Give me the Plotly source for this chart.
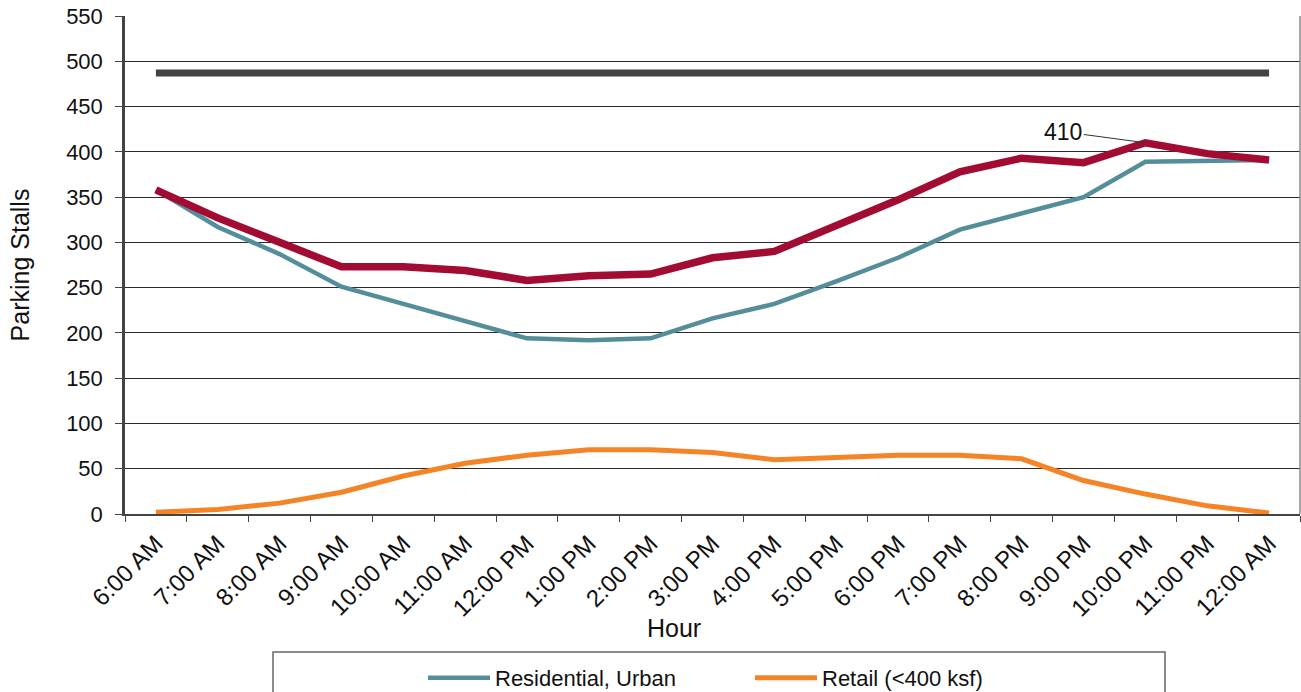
import plotly.graph_objects as go

hours = ["6:00 AM", "7:00 AM", "8:00 AM", "9:00 AM", "10:00 AM", "11:00 AM",
         "12:00 PM", "1:00 PM", "2:00 PM", "3:00 PM", "4:00 PM", "5:00 PM",
         "6:00 PM", "7:00 PM", "8:00 PM", "9:00 PM", "10:00 PM", "11:00 PM",
         "12:00 AM"]

residential = [358, 317, 287, 251, 232, 213, 194, 192, 194, 216, 232, 257,
               283, 314, 332, 350, 389, 390, 391]
retail = [2, 5, 12, 24, 42, 56, 65, 71, 71, 68, 60, 63, 65, 65, 61, 37, 22, 9, 1]
total = [358, 327, 300, 273, 273, 269, 258, 263, 265, 283, 290, 318, 347, 378,
         393, 388, 410, 398, 391]
capacity = [487] * len(hours)

peak_label = "410"
peak_hour = "10:00 PM"
peak_value = 410

FONT = "Liberation Sans, Arial, sans-serif"

fig = go.Figure()
fig.add_trace(go.Scatter(x=hours, y=capacity, mode="lines", name="Capacity",
                         line=dict(color="#434343", width=7), showlegend=False))
fig.add_trace(go.Scatter(x=hours, y=residential, mode="lines", name="Residential, Urban",
                         line=dict(color="#548E9B", width=4.5)))
fig.add_trace(go.Scatter(x=hours, y=retail, mode="lines", name="Retail (<400 ksf)",
                         line=dict(color="#F58426", width=5)))
fig.add_trace(go.Scatter(x=hours, y=total, mode="lines", name="Total",
                         line=dict(color="#A20C33", width=7.5), showlegend=False))

fig.add_annotation(x=peak_hour, y=peak_value, text=peak_label, showarrow=True,
                   arrowhead=0, arrowwidth=1, arrowcolor="#333333",
                   ax=-82, ay=-11, font=dict(family=FONT, size=23, color="#111111"))

# axis titles
fig.add_annotation(text="Parking Stalls", xref="paper", yref="paper",
                   x=-0.089, y=0.5, textangle=-90, showarrow=False,
                   xanchor="center", yanchor="middle",
                   font=dict(family=FONT, size=25, color="#111111"))
fig.add_annotation(text="Hour", xref="paper", yref="paper",
                   x=0.467, y=-0.229, showarrow=False,
                   xanchor="center", yanchor="middle",
                   font=dict(family=FONT, size=25, color="#111111"))

# legend frame
fig.add_shape(type="rect", xref="paper", yref="paper",
              x0=(273 - 125) / 1175, x1=(1165 - 125) / 1175,
              y0=(514 - 652) / 498, y1=(514 - 720) / 498,
              line=dict(color="#666666", width=1.5), fillcolor="rgba(0,0,0,0)")
# right border
fig.add_shape(type="line", xref="paper", yref="paper", x0=1, x1=1, y0=0, y1=1,
              line=dict(color="#8a8a8a", width=1.5))

fig.update_layout(
    width=1301, height=692,
    margin=dict(l=125, r=1, t=16, b=178, autoexpand=False),
    paper_bgcolor="white", plot_bgcolor="white",
    font=dict(family=FONT, size=22, color="#111111"),
    showlegend=True,
    legend=dict(orientation="h", x=(423 - 125) / 1175, xanchor="left",
                y=(514 - 678) / 498, yanchor="middle",
                font=dict(family=FONT, size=22, color="#111111"),
                itemwidth=62,
                entrywidth=250, bgcolor="rgba(0,0,0,0)", borderwidth=0),
)

fig.update_xaxes(type="category", range=[-0.5, 18.5], tickangle=-45,
                 tickson="boundaries", ticks="outside", ticklen=6, tickcolor="#444444",
                 showline=True, linecolor="#444444", linewidth=2,
                 ticklabelstandoff=4,
                 showgrid=False, tickfont=dict(family=FONT, size=24, color="#111111"))
fig.update_yaxes(range=[0, 550], dtick=50, ticks="outside", ticklen=7,
                 tickcolor="#444444", showline=True, linecolor="#444444", linewidth=2.5,
                 showgrid=True, gridcolor="#2a2a2a", gridwidth=1, zeroline=False,
                 ticklabelstandoff=8,
                 tickfont=dict(family=FONT, size=22, color="#111111"))

fig.write_html("out.html")
